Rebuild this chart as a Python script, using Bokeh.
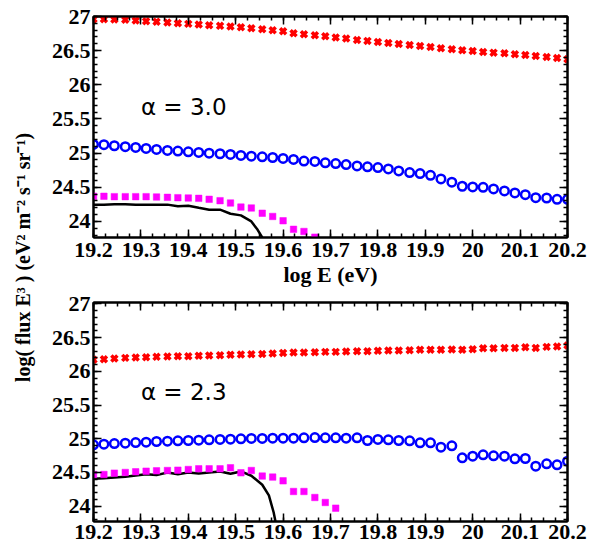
import math
from bokeh.plotting import figure
from bokeh.layouts import row, column
from bokeh.models import Range1d, LinearAxis, FixedTicker, Label, CustomJSTickFormatter
from bokeh.embed import file_html
from bokeh.resources import INLINE

# ---------------- data ----------------
log_e = [19.200, 19.222, 19.244, 19.267, 19.289, 19.311, 19.333, 19.356, 19.378, 19.400,
         19.422, 19.444, 19.467, 19.489, 19.511, 19.533, 19.556, 19.578, 19.600, 19.622,
         19.644, 19.667, 19.689, 19.711, 19.733, 19.756, 19.778, 19.800, 19.822, 19.844,
         19.867, 19.889, 19.911, 19.933, 19.956, 19.978, 20.000, 20.022, 20.044, 20.067,
         20.089, 20.111, 20.133, 20.156, 20.178, 20.200]

# panel a (alpha = 3.0)
red_a = [26.961, 26.961, 26.956, 26.951, 26.941, 26.932, 26.922, 26.912, 26.902, 26.892,
         26.883, 26.873, 26.863, 26.853, 26.843, 26.829, 26.814, 26.799, 26.785, 26.755,
         26.740, 26.726, 26.711, 26.692, 26.677, 26.657, 26.643, 26.628, 26.613, 26.598,
         26.584, 26.569, 26.554, 26.535, 26.520, 26.505, 26.495, 26.481, 26.471, 26.461,
         26.446, 26.437, 26.422, 26.407, 26.393, 26.373]
blue_a = [25.128, 25.123, 25.108, 25.094, 25.084, 25.069, 25.054, 25.040, 25.030, 25.020,
          25.010, 25.000, 24.991, 24.981, 24.966, 24.956, 24.946, 24.936, 24.922, 24.907,
          24.883, 24.878, 24.858, 24.848, 24.833, 24.813, 24.799, 24.789, 24.769, 24.740,
          24.715, 24.701, 24.676, 24.622, 24.574, 24.515, 24.505, 24.500, 24.476, 24.447,
          24.417, 24.392, 24.348, 24.343, 24.324, 24.324]
magenta_a = [24.368, 24.368, 24.363, 24.363, 24.363, 24.363, 24.358, 24.353, 24.348, 24.343,
             24.338, 24.324, 24.304, 24.270, 24.210, 24.197, 24.120, 24.073, 24.010, 23.885,
             23.853, 23.770]
black_a_x = [19.200, 19.222, 19.244, 19.267, 19.289, 19.311, 19.333, 19.356, 19.378, 19.400,
             19.422, 19.444, 19.467, 19.489, 19.511, 19.533, 19.545, 19.556, 19.562]
black_a_y = [24.246, 24.246, 24.251, 24.251, 24.246, 24.246, 24.246, 24.246, 24.221, 24.231,
             24.201, 24.172, 24.172, 24.113, 24.089, 24.000, 23.890, 23.765, 23.680]

# panel b (alpha = 2.3)
red_b = [26.170, 26.179, 26.189, 26.199, 26.204, 26.209, 26.214, 26.219, 26.224, 26.224,
         26.229, 26.234, 26.239, 26.244, 26.249, 26.253, 26.258, 26.263, 26.273, 26.278,
         26.278, 26.283, 26.288, 26.288, 26.293, 26.298, 26.298, 26.303, 26.308, 26.308,
         26.313, 26.318, 26.318, 26.318, 26.323, 26.318, 26.328, 26.342, 26.342, 26.347,
         26.347, 26.357, 26.347, 26.362, 26.367, 26.382]
blue_b = [24.910, 24.920, 24.929, 24.934, 24.944, 24.949, 24.959, 24.964, 24.969, 24.974,
          24.979, 24.984, 24.989, 24.994, 24.999, 25.004, 25.004, 25.008, 25.008, 25.008,
          25.013, 25.018, 25.013, 25.013, 25.008, 25.013, 24.974, 24.989, 24.984, 24.974,
          24.969, 24.939, 24.939, 24.875, 24.895, 24.717, 24.742, 24.761, 24.747, 24.742,
          24.702, 24.707, 24.594, 24.628, 24.613, 24.668]
magenta_b = [24.470, 24.470, 24.490, 24.500, 24.510, 24.519, 24.524, 24.529, 24.534, 24.544,
             24.554, 24.554, 24.554, 24.569, 24.495, 24.529, 24.446, 24.431, 24.376, 24.218,
             24.218, 24.129, 24.055, 23.971]
black_b_x = [19.200, 19.222, 19.244, 19.267, 19.289, 19.311, 19.333, 19.356, 19.378, 19.400,
             19.422, 19.444, 19.467, 19.489, 19.511, 19.533, 19.556, 19.570, 19.580, 19.586]
black_b_y = [24.406, 24.416, 24.426, 24.436, 24.456, 24.475, 24.461, 24.500, 24.475, 24.500,
             24.485, 24.500, 24.515, 24.480, 24.515, 24.451, 24.318, 24.160, 23.910, 23.700]

x_ticks = [19.2, 19.3, 19.4, 19.5, 19.6, 19.7, 19.8, 19.9, 20.0, 20.1, 20.2]
x_tick_labels = ["19.2", "19.3", "19.4", "19.5", "19.6", "19.7", "19.8", "19.9", "20", "20.1", "20.2"]
y_ticks = [24.0, 24.5, 25.0, 25.5, 26.0, 26.5, 27.0]
y_tick_labels = ["24", "24.5", "25", "25.5", "26", "26.5", "27"]

x_label = "log E (eV)"
y_label = "log( flux E\u00b3 ) (eV\u00b2 m\u207b\u00b2 s\u207b\u00b9 sr\u207b\u00b9)"
note_a = "\u03b1 = 3.0"
note_b = "\u03b1 = 2.3"

# ---------------- styling ----------------
SERIF = "Liberation Serif"
x_minor = [round(19.2 + 0.025 * i, 3) for i in range(41)]
y_minor = [round(23.7 + 0.1 * i, 1) for i in range(34)]

LABEL_CODE = """
for (let i = 0; i < tvals.length; i++) {
    if (Math.abs(tvals[i] - tick) < 1e-6) { return tlabels[i]; }
}
return "";
"""


def style_axis(ax, ticks, labels, minor, show_labels, standoff=3):
    ax.ticker = FixedTicker(ticks=ticks, minor_ticks=minor)
    if show_labels:
        ax.formatter = CustomJSTickFormatter(args=dict(tvals=ticks, tlabels=labels), code=LABEL_CODE)
    else:
        ax.formatter = CustomJSTickFormatter(code="return '';")
    ax.major_label_text_font = SERIF
    ax.major_label_text_font_style = "bold"
    ax.major_label_text_font_size = "22px"
    ax.major_label_text_color = "black"
    ax.major_label_standoff = standoff
    ax.axis_line_color = "black"
    ax.axis_line_width = 2
    ax.major_tick_in = 8
    ax.major_tick_out = 0
    ax.minor_tick_in = 4
    ax.minor_tick_out = 0
    ax.major_tick_line_width = 1.5
    ax.minor_tick_line_width = 1.5
    ax.major_tick_line_color = "black"
    ax.minor_tick_line_color = "black"


def make_panel(height, y0, y1, b_top, b_bottom, with_xlabel, red, blue, magenta, bx, by, note, note_y):
    p = figure(width=542, height=height,
               x_range=Range1d(19.2, 20.2), y_range=Range1d(y0, y1),
               output_backend="svg", toolbar_location=None,
               min_border_left=43, min_border_right=23,
               min_border_top=b_top, min_border_bottom=b_bottom)
    p.xgrid.visible = False
    p.ygrid.visible = False
    p.outline_line_color = "black"
    p.outline_line_width = 2
    p.background_fill_color = "white"
    p.border_fill_color = "white"

    p.add_layout(LinearAxis(), "above")
    p.add_layout(LinearAxis(), "right")
    for ax in p.below:
        style_axis(ax, x_ticks, x_tick_labels, x_minor, True, 5 if with_xlabel else 3)
    for ax in p.above:
        style_axis(ax, x_ticks, x_tick_labels, x_minor, False)
    for ax in p.left:
        style_axis(ax, y_ticks, y_tick_labels, y_minor, True)
    for ax in p.right:
        style_axis(ax, y_ticks, y_tick_labels, y_minor, False)

    if with_xlabel:
        ax = p.below[0]
        ax.axis_label = x_label
        ax.axis_label_text_font = SERIF
        ax.axis_label_text_font_style = "bold"
        ax.axis_label_text_font_size = "22px"
        ax.axis_label_text_color = "black"
        ax.axis_label_standoff = 2

    p.line(bx, by, line_color="black", line_width=2.5)
    p.scatter(log_e[:len(magenta)], magenta, marker="square", size=6.5,
              fill_color="#ff00ff", line_color="#ff00ff", line_width=0.5)
    p.scatter(log_e, blue, marker="circle", size=8.5, fill_color=None,
              line_color="#0000ff", line_width=2.5)
    p.scatter(log_e, red, marker="x", size=8.5, line_color="#ff0000", line_width=3.5)

    p.add_layout(Label(x=19.3, y=note_y, text=note, text_font="DejaVu Sans",
                       text_font_size="23px", text_color="black",
                       text_baseline="alphabetic", text_align="left"))
    return p


top = make_panel(292, 23.765, 27.0, 16, 55, True, red_a, blue_a, magenta_a,
                 black_a_x, black_a_y, note_a, 25.676)
bot = make_panel(257, 23.773, 27.02, 10, 28, False, red_b, blue_b, magenta_b,
                 black_b_x, black_b_y, note_b, 25.69)

lab = figure(width=48, height=549, x_range=Range1d(0, 48), y_range=Range1d(0, 549),
             output_backend="svg", toolbar_location=None,
             x_axis_type=None, y_axis_type=None,
             min_border_left=0, min_border_right=0, min_border_top=0, min_border_bottom=0)
lab.outline_line_color = None
lab.xgrid.visible = False
lab.ygrid.visible = False
lab.add_layout(Label(x=22, y=292, text=y_label, angle=math.pi / 2,
                     text_font=SERIF, text_font_style="bold", text_font_size="20px",
                     text_color="black", text_align="center", text_baseline="middle"))

layout = row(lab, column(top, bot))
open("out.html", "w").write(file_html(layout, INLINE))
